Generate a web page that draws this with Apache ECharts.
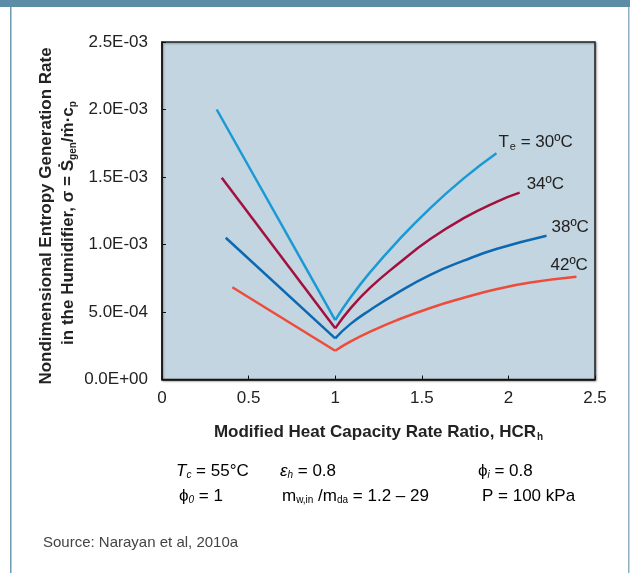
<!DOCTYPE html>
<html>
<head>
<meta charset="utf-8">
<script src="https://cdn.jsdelivr.net/npm/echarts@6/dist/echarts.min.js"></script>
<style>
html,body{margin:0;padding:0;background:#fff;}
#main{width:630px;height:573px;}
</style>
</head>
<body>
<div id="main"></div>
<script>
// ---- data ----
var xTickLabels = ['0', '0.5', '1', '1.5', '2', '2.5'];
var yTickLabels = ['0.0E+00', '5.0E-04', '1.0E-03', '1.5E-03', '2.0E-03', '2.5E-03'];
var seriesNames = ['30', '34', '38', '42'];
// each curve: first point = left end, second = minimum at HCR = 1, rest = right branch
var te30 = [[0.316, 2.00e-3], [1.0, 0.44e-3], [1.087, 0.605e-3], [1.202, 0.795e-3], [1.357, 1.02e-3], [1.549, 1.27e-3], [1.742, 1.49e-3], [1.931, 1.676e-3]];
var te34 = [[0.345, 1.495e-3], [1.0, 0.379e-3], [1.087, 0.525e-3], [1.202, 0.68e-3], [1.357, 0.85e-3], [1.549, 1.04e-3], [1.742, 1.195e-3], [1.935, 1.318e-3], [2.065, 1.384e-3]];
var te38 = [[0.368, 1.050e-3], [1.0, 0.305e-3], [1.087, 0.41e-3], [1.202, 0.515e-3], [1.357, 0.64e-3], [1.549, 0.775e-3], [1.742, 0.88e-3], [1.935, 0.968e-3], [2.22, 1.065e-3]];
var te42 = [[0.406, 0.683e-3], [1.0, 0.213e-3], [1.087, 0.28e-3], [1.202, 0.354e-3], [1.357, 0.44e-3], [1.549, 0.53e-3], [1.742, 0.605e-3], [1.935, 0.67e-3], [2.127, 0.718e-3], [2.393, 0.761e-3]];

var FONT = '"Liberation Sans Narrow","Liberation Sans",Arial,sans-serif';
var colors = ['#1b99d4', '#a2103e', '#0c69b1', '#ef4b3b'];
var labelOffsets = [[2, -11], [7, -8], [5, -8], [-26, -11]];
var labelTexts = ['{t|T}{sub|e}{t| = 30ºC}', '{t|34ºC}', '{t|38ºC}', '{t|42ºC}'];
var allData = [te30, te34, te38, te42];

var chart = echarts.init(document.getElementById('main'), null, {renderer: 'canvas'});

var series = [];
allData.forEach(function (d, i) {
  // left branch: straight
  series.push({
    type: 'line', name: seriesNames[i] + 'L', data: d.slice(0, 2),
    symbol: 'none', lineStyle: {color: colors[i], width: 2.5}, z: 3
  });
  // right branch: smooth curve
  series.push({
    type: 'line', name: seriesNames[i], data: d.slice(1),
    smooth: 0.5, symbol: 'none',
    lineStyle: {color: colors[i], width: 2.5},
    endLabel: {
      show: true,
      formatter: labelTexts[i],
      offset: labelOffsets[i],
      distance: 0,
      align: 'left',
      verticalAlign: 'middle',
      rich: {
        t: {fontFamily: FONT, fontSize: 17, color: '#222'},
        sub: {fontFamily: FONT, fontSize: 11, color: '#222', verticalAlign: 'bottom', padding: [10, 0, 0, 1]}
      }
    },
    z: 3
  });
});

var rich17 = {
  t: {fontFamily: FONT, fontSize: 17, color: '#222'},
  it: {fontFamily: FONT, fontSize: 17, color: '#222', fontStyle: 'italic'},
  sub: {fontFamily: FONT, fontSize: 10, color: '#222', padding: [9, 0, 0, 0]},
  isub: {fontFamily: FONT, fontSize: 10, color: '#222', fontStyle: 'italic', padding: [9, 0, 0, 0]}
};

chart.setOption({
  backgroundColor: '#ffffff',
  animation: false,
  grid: {
    left: 162, right: 35, top: 42, bottom: 193.5,
    show: true, backgroundColor: '#c2d5e0', borderColor: '#222', borderWidth: 1.5,
    shadowColor: 'rgba(0,0,0,0.35)', shadowBlur: 2, shadowOffsetX: 1, shadowOffsetY: 1
  },
  xAxis: {
    type: 'value', min: 0, max: 2.5, interval: 0.5,
    axisLine: {show: true, lineStyle: {color: '#111', width: 1.5}},
    axisTick: {show: true, inside: true, length: 4, lineStyle: {color: '#111', width: 1}},
    splitLine: {show: false},
    axisLabel: {
      margin: 10, fontFamily: FONT, fontSize: 17, color: '#222',
      formatter: function (v) { return xTickLabels[Math.round(v / 0.5)]; }
    },
    name: '{b|Modified Heat Capacity Rate Ratio, HCR}{bs|h}',
    nameLocation: 'middle', nameGap: 43,
    nameTextStyle: {
      rich: {
        b: {fontFamily: FONT, fontSize: 17, fontWeight: 'bold', color: '#222'},
        bs: {fontFamily: FONT, fontSize: 10, fontWeight: 'bold', color: '#222', padding: [10, 0, 0, 1]}
      }
    }
  },
  yAxis: {
    type: 'value', min: 0, max: 2.5e-3, interval: 5e-4,
    axisLine: {show: true, lineStyle: {color: '#111', width: 1.5}},
    axisTick: {show: true, inside: true, length: 4, lineStyle: {color: '#111', width: 1}},
    splitLine: {show: false},
    axisLabel: {
      margin: 14, fontFamily: FONT, fontSize: 17, color: '#222',
      formatter: function (v) { return yTickLabels[Math.round(v / 5e-4)]; }
    }
  },
  series: series,
  graphic: [
    {type: 'rect', shape: {x: 0, y: 0, width: 630, height: 7}, style: {fill: '#5b8da6'}, silent: true},
    {type: 'rect', shape: {x: 10, y: 7, width: 1.5, height: 566}, style: {fill: '#6d9ab0'}, silent: true},
    {type: 'rect', shape: {x: 628, y: 7, width: 1.5, height: 566}, style: {fill: '#8fb0c2'}, silent: true},
    {
      type: 'text', x: 46, y: 216, rotation: Math.PI / 2,
      style: {
        text: 'Nondimensional Entropy Generation Rate',
        fontFamily: FONT, fontSize: 17, fontWeight: 'bold', fill: '#222',
        align: 'center', verticalAlign: 'middle'
      }
    },
    {
      type: 'text', x: 68, y: 223, rotation: Math.PI / 2,
      style: {
        text: '{b|in the Humidifier, σ = Ṡ}{s|gen}{b|/ṁ·c}{s|p}',
        align: 'center', verticalAlign: 'middle',
        rich: {
          b: {fontFamily: FONT, fontSize: 17, fontWeight: 'bold', fill: '#222'},
          s: {fontFamily: FONT, fontSize: 10, fontWeight: 'bold', fill: '#222', padding: [10, 0, 0, 0]}
        }
      }
    },
    {type: 'text', x: 176, y: 471, style: {text: '{it|T}{isub|c}{t| = 55°C}', verticalAlign: 'middle', rich: rich17}},
    {type: 'text', x: 280, y: 471, style: {text: '{it|ε}{isub|h}{t| = 0.8}', verticalAlign: 'middle', rich: rich17}},
    {type: 'text', x: 478, y: 471, style: {text: '{t|ϕ}{isub|i}{t| = 0.8}', verticalAlign: 'middle', rich: rich17}},
    {type: 'text', x: 179, y: 496, style: {text: '{t|ϕ}{isub|0}{t| = 1}', verticalAlign: 'middle', rich: rich17}},
    {type: 'text', x: 282, y: 496, style: {text: '{t|m}{sub|w,in}{t| /m}{sub|da}{t| = 1.2 – 29}', verticalAlign: 'middle', rich: rich17}},
    {type: 'text', x: 482, y: 496, style: {text: '{t|P = 100 kPa}', verticalAlign: 'middle', rich: rich17}},
    {
      type: 'text', x: 43, y: 543,
      style: {text: 'Source: Narayan et al, 2010a', fontFamily: FONT, fontSize: 15, fill: '#444', verticalAlign: 'middle'}
    }
  ]
});
</script>
</body>
</html>
